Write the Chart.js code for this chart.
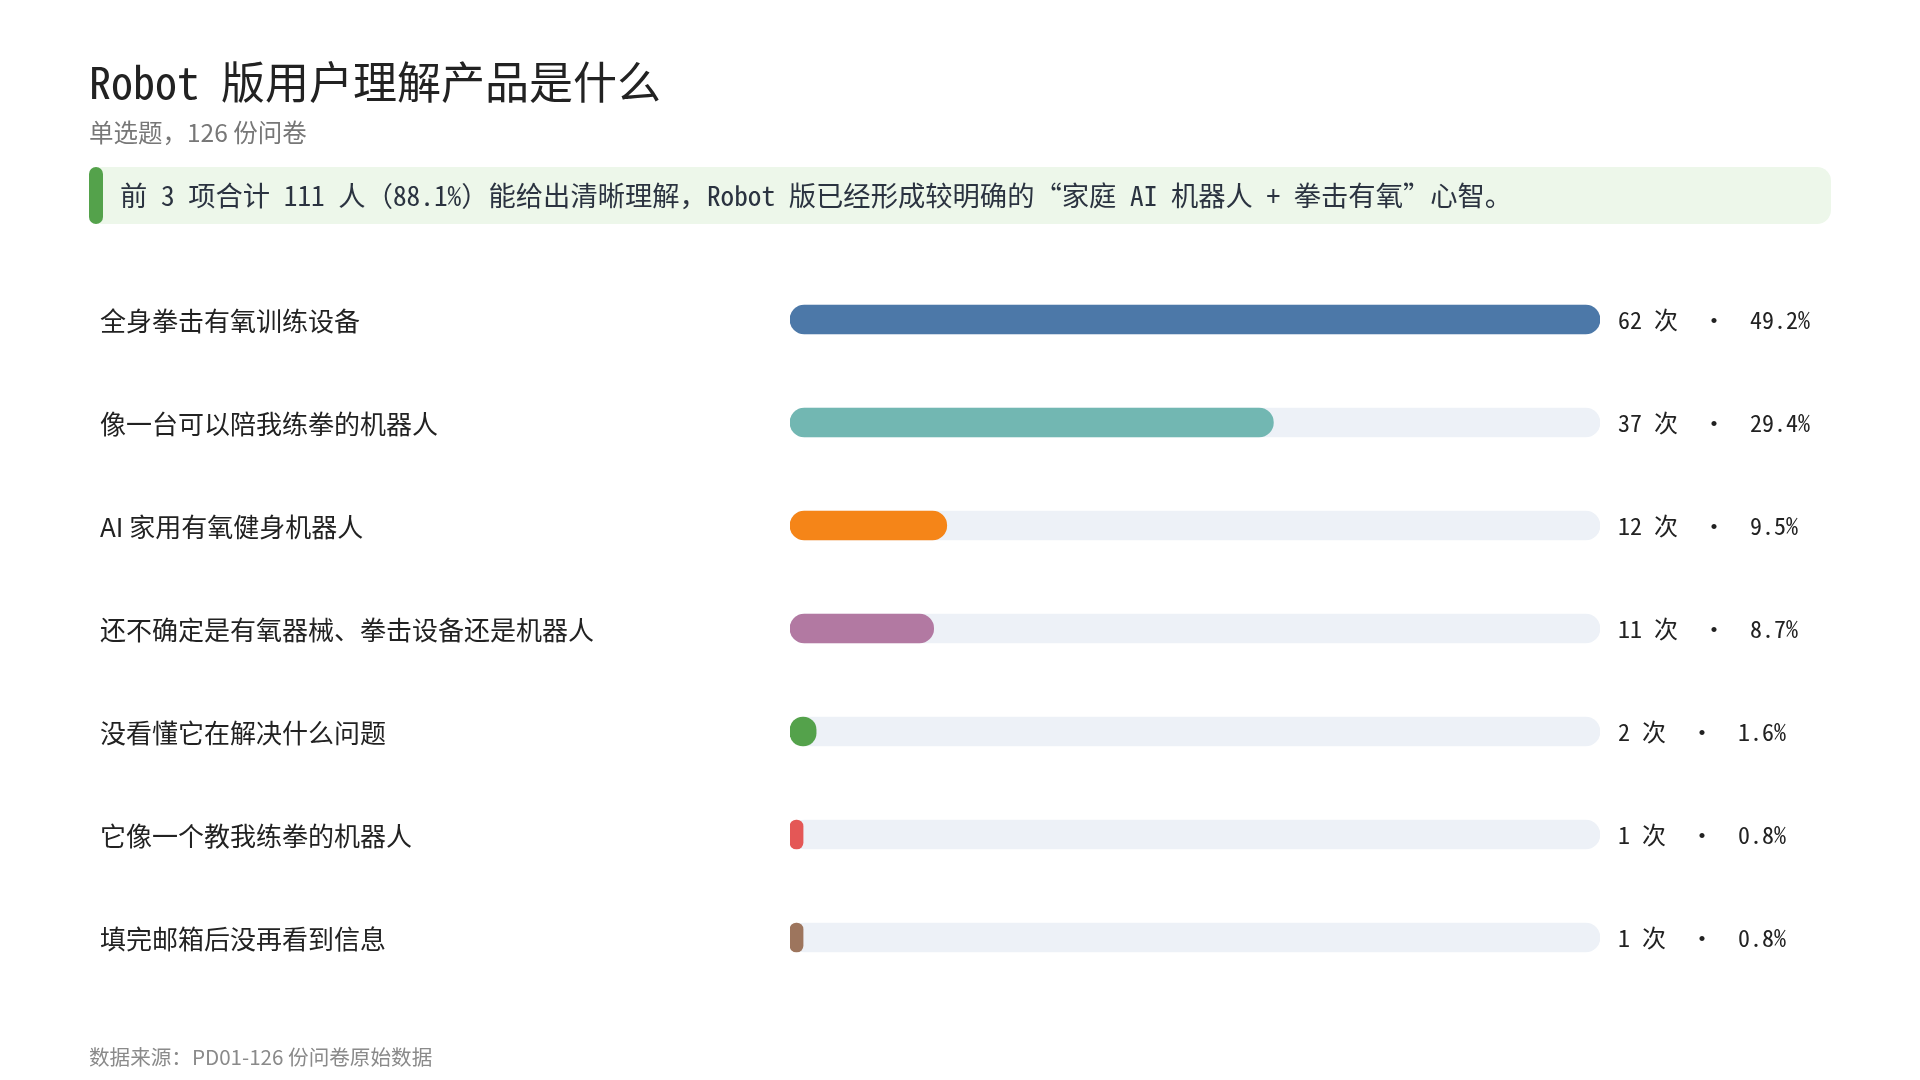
<!DOCTYPE html>
<html lang="zh-CN">
<head>
<meta charset="utf-8">
<title>Robot 版用户理解产品是什么</title>
<script src="https://cdn.jsdelivr.net/npm/chart.js@4.4.1/dist/chart.umd.min.js"></script>
<style>
    html, body { margin: 0; padding: 0; background: #fff; overflow: hidden; }
    #wrap { position: relative; width: 1920px; height: 1080px; }
    #chart { position: absolute; left: 0; top: 0; }
    .mono { font-family: "Noto Sans Mono CJK SC", "DejaVu Sans Mono", monospace; }
    .sans { font-family: "Noto Sans CJK SC", "Noto Sans", sans-serif; }
    #title { position: absolute; left: 89px; top: 53px; font-size: 44px; line-height: 54px; color: #222; white-space: pre; }
    #subtitle { position: absolute; left: 89px; top: 117px; font-size: 24.5px; line-height: 30px; color: #777; }
    #note { position: absolute; left: 89px; top: 167px; width: 1742px; height: 57px; background: #edf7ea; border-radius: 14px; }
    #note .accent { position: absolute; left: 0; top: 0; width: 14px; height: 57px; background: #54a24b; border-radius: 7px; }
    #note .text { position: absolute; left: 31px; top: -1px; line-height: 57px; font-size: 27.3px; color: #2b3340; white-space: pre; }
    #source { position: absolute; left: 89px; top: 1042px; font-size: 20.6px; line-height: 28px; color: #8a8a8a; }
</style>
</head>
<body>
<div id="wrap">
    <canvas id="chart" width="1920" height="1080"></canvas>
    <div id="title" class="mono">Robot 版用户理解产品是什么</div>
    <div id="subtitle" class="sans">单选题，126 份问卷</div>
    <div id="note"><div class="accent"></div><div class="text mono">前 3 项合计 111 人（88.1%）能给出清晰理解，Robot 版已经形成较明确的“家庭 AI 机器人 + 拳击有氧”心智。</div></div>
    <div id="source" class="sans">数据来源：PD01-126 份问卷原始数据</div>
</div>
<script>
// Answer options, counts and shares
const categories = [
    '全身拳击有氧训练设备',
    '像一台可以陪我练拳的机器人',
    'AI 家用有氧健身机器人',
    '还不确定是有氧器械、拳击设备还是机器人',
    '没看懂它在解决什么问题',
    '它像一个教我练拳的机器人',
    '填完邮箱后没再看到信息'
];
const counts = [62, 37, 12, 11, 2, 1, 1];
const percents = [49.2, 29.4, 9.5, 8.7, 1.6, 0.8, 0.8];
const barColors = ['#4c78a8', '#72b7b2', '#f58518', '#b279a2', '#54a24b', '#e45756', '#9d755d'];
const trackColor = '#edf1f7';

const maxCount = Math.max(...counts);
const monoFont = '"Noto Sans Mono CJK SC", "DejaVu Sans Mono", monospace';

// Draws "62 次  ·  49.2%" to the right of each track
const valueLabels = {
    id: 'valueLabels',
    afterDatasetsDraw(chart) {
        const ctx = chart.ctx;
        const meta = chart.getDatasetMeta(0);
        const area = chart.chartArea;
        ctx.save();
        ctx.font = '24px ' + monoFont;
        ctx.fillStyle = '#222';
        ctx.textAlign = 'left';
        ctx.textBaseline = 'middle';
        meta.data.forEach((bar, i) => {
            const text = `${counts[i]} 次  ·  ${percents[i].toFixed(1)}%`;
            ctx.fillText(text, area.right + 18, bar.y);
        });
        ctx.restore();
    }
};

const ctx = document.getElementById('chart').getContext('2d');
const chart = new Chart(ctx, {
    type: 'bar',
    data: {
        labels: categories,
        datasets: [
            {
                label: '次数',
                data: counts,
                backgroundColor: barColors,
                borderRadius: 15,
                borderSkipped: false,
                barThickness: 29,
                grouped: false,
                order: 0
            },
            {
                label: 'track',
                data: counts.map(() => maxCount),
                backgroundColor: trackColor,
                borderRadius: 15,
                borderSkipped: false,
                barThickness: 29,
                grouped: false,
                order: 1
            }
        ]
    },
    options: {
        indexAxis: 'y',
        responsive: false,
        devicePixelRatio: 1,
        animation: false,
        layout: {
            padding: { left: 100, right: 320, top: 268, bottom: 91 }
        },
        plugins: {
            legend: { display: false },
            tooltip: { enabled: false }
        },
        scales: {
            x: {
                display: false,
                min: 0,
                max: maxCount
            },
            y: {
                grid: { display: false },
                border: { display: false },
                afterFit(scale) { scale.width = 690; },
                ticks: {
                    crossAlign: 'far',
                    padding: 0,
                    labelOffset: 2,
                    color: '#222',
                    font: { family: '"Noto Sans CJK SC", "Noto Sans", sans-serif', size: 26 }
                }
            }
        }
    },
    plugins: [valueLabels]
});
</script>
</body>
</html>
